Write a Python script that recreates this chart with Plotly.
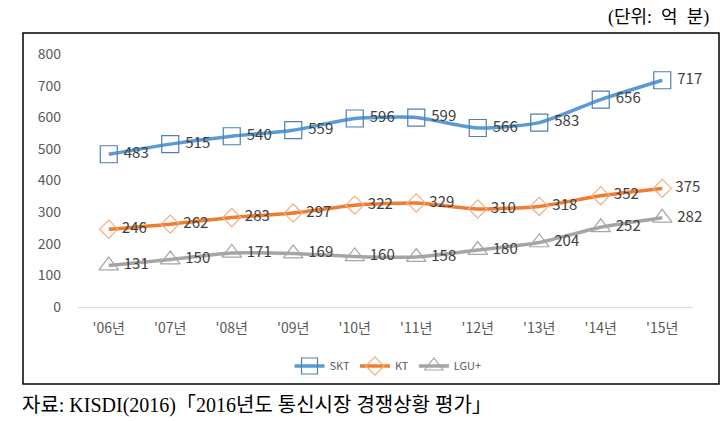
import plotly.graph_objects as go

years = ["'06년", "'07년", "'08년", "'09년", "'10년", "'11년", "'12년", "'13년", "'14년", "'15년"]
skt = [483, 515, 540, 559, 596, 599, 566, 583, 656, 717]
kt = [246, 262, 283, 297, 322, 329, 310, 318, 352, 375]
lgu = [131, 150, 171, 169, 160, 158, 180, 204, 252, 282]
y_ticks = [0, 100, 200, 300, 400, 500, 600, 700, 800]

# page body has an 8px default margin; the figure fills the rest of the window
OFF = 8
W, H = 728 - OFF, 421 - OFF
def py(p):
    return (H - (p - OFF)) / H
def px(p):
    return (p - OFF) / W

label_font = dict(family="Noto Sans CJK KR, Noto Sans", size=15, color="#404040")
tick_font = dict(family="Noto Sans CJK KR, Noto Sans", size=14, color="#595959")

fig = go.Figure()
series = [
    ("SKT", skt, "#5B9BD5", "#4F7FB5", "square-open", 17),
    ("KT", kt, "#ED7D31", "#F2AE80", "diamond-open", 14),
    ("LGU+", lgu, "#A5A5A5", "#A5A5A5", "triangle-up-open", 17),
]
for name, vals, lc, mc, sym, ms in series:
    fig.add_trace(go.Scatter(
        x=years, y=vals, name=name,
        mode="lines+markers+text",
        line=dict(color=lc, width=3.5, shape="spline", smoothing=0.6),
        marker=dict(symbol=sym, size=ms, color=mc, line=dict(width=1.2, color=mc)),
        text=[" " + str(v) for v in vals], textposition="middle right",
        textfont=label_font, cliponaxis=False,
    ))

fig.update_layout(
    width=W, height=H,
    margin=dict(l=0, r=0, t=0, b=0, autoexpand=False),
    paper_bgcolor="white", plot_bgcolor="white",
    showlegend=True,
    legend=dict(orientation="h", x=px(388), xanchor="center", y=py(366), yanchor="middle",
                font=dict(family="Noto Sans CJK KR, Noto Sans", size=11, color="#595959"),
                itemwidth=30, tracegroupgap=0),
    xaxis=dict(domain=[px(78), px(693)], type="category", categoryorder="array",
               categoryarray=years, range=[-0.5, 9.5], showgrid=False, zeroline=False,
               showline=False, ticks="", ticklabelstandoff=11, tickfont=tick_font,
               automargin=False),
    yaxis=dict(domain=[py(307), py(54)], range=[0, 800], tickvals=y_ticks,
               showgrid=False, zeroline=True, zerolinecolor="#D9D9D9", zerolinewidth=1,
               showline=False, ticks="", ticklabelstandoff=16, tickfont=tick_font,
               automargin=False),
    shapes=[dict(type="rect", xref="paper", yref="paper",
                 x0=px(23), x1=px(719), y0=py(384), y1=py(33),
                 line=dict(color="black", width=1.5), fillcolor="rgba(0,0,0,0)")],
    annotations=[
        dict(text="(단위:  억  분)", xref="paper", yref="paper", x=px(606), y=py(17),
             xanchor="left", yanchor="middle", showarrow=False,
             font=dict(family="Liberation Serif, Noto Sans CJK KR", size=18, color="black")),
        dict(text="자료: KISDI(2016)「2016년도 통신시장 경쟁상황 평가」", xref="paper", yref="paper",
             x=px(20), y=py(405), xanchor="left", yanchor="middle", showarrow=False,
             font=dict(family="Liberation Serif, Noto Sans CJK KR", size=20, color="black")),
    ],
)
fig.write_html("out.html")
